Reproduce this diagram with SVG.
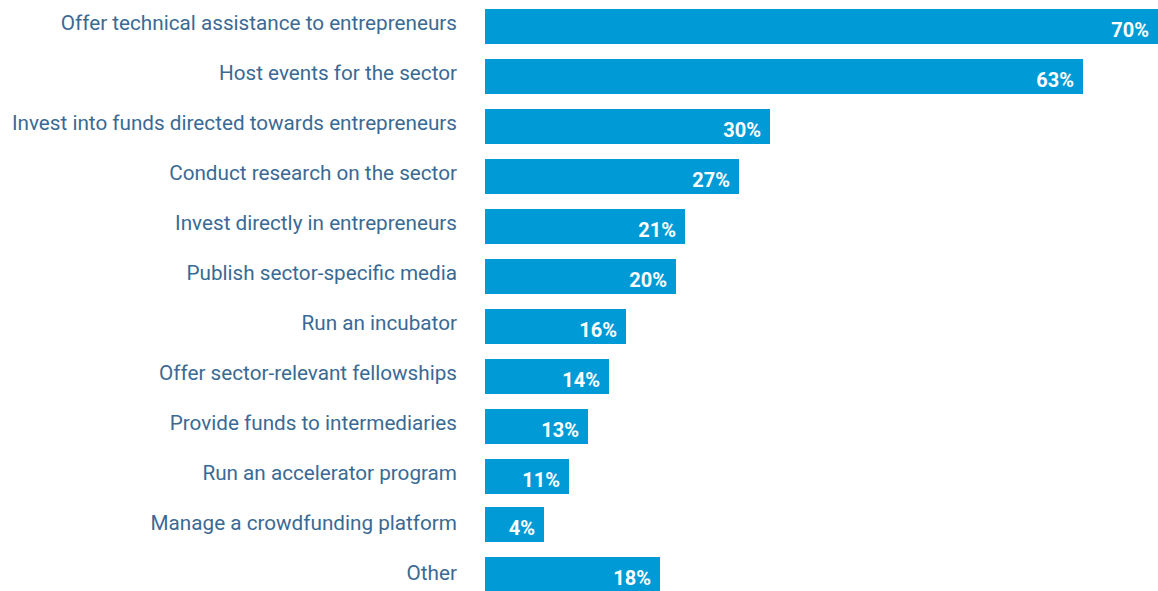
<svg xmlns="http://www.w3.org/2000/svg" width="1158" height="591" viewBox="0 0 1158 591">
<style>
.lbl{font-family:Roboto,"Liberation Sans",sans-serif;font-size:20.7px;fill:#3a6a94;text-anchor:end}
.bar{fill:#009bd6}
.val{font-family:Roboto,"Liberation Sans",sans-serif;font-size:20px;font-weight:bold;fill:#fff;text-anchor:end}
</style>
<rect width="1158" height="591" fill="#fff"/>
<g id="row1"><text class="lbl" x="457" y="30.3">Offer technical assistance to entrepreneurs</text><rect class="bar" x="485" y="9" width="673" height="35"/><text class="val" x="1149" y="36.7">70%</text></g>
<g id="row2"><text class="lbl" x="457" y="80.3">Host events for the sector</text><rect class="bar" x="485" y="59" width="598" height="35"/><text class="val" x="1074" y="86.7">63%</text></g>
<g id="row3"><text class="lbl" x="457" y="130.3">Invest into funds directed towards entrepreneurs</text><rect class="bar" x="485" y="109" width="285" height="35"/><text class="val" x="761" y="136.7">30%</text></g>
<g id="row4"><text class="lbl" x="457" y="180.3">Conduct research on the sector</text><rect class="bar" x="485" y="159" width="254" height="35"/><text class="val" x="730" y="186.7">27%</text></g>
<g id="row5"><text class="lbl" x="457" y="230.3">Invest directly in entrepreneurs</text><rect class="bar" x="485" y="209" width="200" height="35"/><text class="val" x="676" y="236.7">21%</text></g>
<g id="row6"><text class="lbl" x="457" y="280.3">Publish sector-specific media</text><rect class="bar" x="485" y="259" width="191" height="35"/><text class="val" x="667" y="286.7">20%</text></g>
<g id="row7"><text class="lbl" x="457" y="330.3">Run an incubator</text><rect class="bar" x="485" y="309" width="141" height="35"/><text class="val" x="617" y="336.7">16%</text></g>
<g id="row8"><text class="lbl" x="457" y="380.3">Offer sector-relevant fellowships</text><rect class="bar" x="485" y="359" width="124" height="35"/><text class="val" x="600" y="386.7">14%</text></g>
<g id="row9"><text class="lbl" x="457" y="430.3">Provide funds to intermediaries</text><rect class="bar" x="485" y="409" width="103" height="35"/><text class="val" x="579" y="436.7">13%</text></g>
<g id="row10"><text class="lbl" x="457" y="480.3">Run an accelerator program</text><rect class="bar" x="485" y="459" width="84" height="35"/><text class="val" x="560" y="486.7">11%</text></g>
<g id="row11"><text class="lbl" x="457" y="530.3">Manage a crowdfunding platform</text><rect class="bar" x="485" y="507" width="59" height="35"/><text class="val" x="535" y="534.7">4%</text></g>
<g id="row12"><text class="lbl" x="457" y="580.3">Other</text><rect class="bar" x="485" y="557" width="175" height="34"/><text class="val" x="651" y="584.7">18%</text></g>
<g id="connectors"/>
</svg>
